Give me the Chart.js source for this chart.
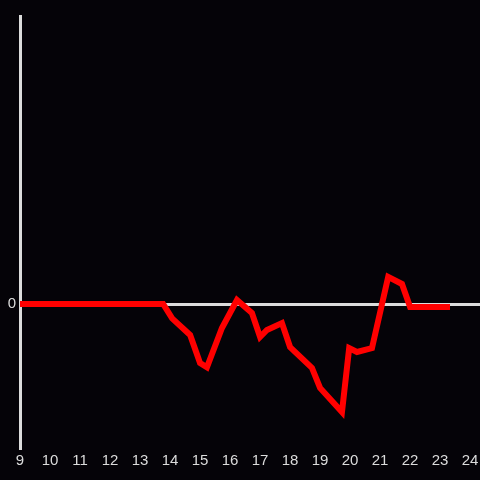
<!DOCTYPE html>
<html>
<head>
<meta charset="utf-8">
<script src="https://cdn.jsdelivr.net/npm/chart.js@4/dist/chart.umd.min.js"></script>
<style>
  html, body { margin: 0; padding: 0; background: #050308; }
  #wrap { width: 480px; height: 480px; }
</style>
</head>
<body>
<div id="wrap"><canvas id="lineChart" width="480" height="480"></canvas></div>
<script>
'use strict';

// hour of day
let hours = [9, 13.77, 14.07, 14.67, 15.0, 15.23, 15.73, 16.23, 16.73, 17.0, 17.23, 17.73,
             18.0, 18.73, 19.0, 19.73, 19.97, 20.23, 20.73, 21.27, 21.73, 22.0, 23.33]
let values = [0, 0, -0.1, -0.215, -0.41, -0.44, -0.167, 0.028, -0.063, -0.229, -0.18, -0.132,
              -0.299, -0.444, -0.583, -0.75, -0.306, -0.333, -0.306, 0.188, 0.139, -0.021, -0.021]
let xTicks = [9, 10, 11, 12, 13, 14, 15, 16, 17, 18, 19, 20, 21, 22, 23, 24]
let yTicks = [0]

let points = []
for (let i = 0; i < hours.length; i++) {
    points.push({x: hours[i], y: values[i]})
}

let axisColor = '#dcdcdc'

let data_1 = {
    datasets: [
        {
            data: points,
            borderColor: '#ff0000',
            borderWidth: 6,
            pointRadius: 0,
            tension: 0,
            fill: false
        }
    ]
}

let options = {
    responsive: false,
    animation: false,
    layout: { padding: { top: 16, left: 0, right: 0, bottom: 0 } },
    plugins: {
        legend: { display: false },
        tooltip: { enabled: false }
    },
    scales: {
        x: {
            type: 'linear',
            min: 9,
            max: 24.33,
            afterBuildTicks: function (scale) {
                scale.ticks = xTicks.map(v => ({value: v}))
            },
            afterFit: function (scale) {
                scale.height = 32
                scale.paddingRight = 0
                scale.paddingLeft = 0
            },
            grid: { display: false, drawTicks: false },
            border: { display: false },
            ticks: {
                color: axisColor,
                font: { size: 15 },
                padding: 4,
                maxRotation: 0,
                autoSkip: false
            }
        },
        y: {
            min: -1,
            max: 2,
            afterBuildTicks: function (scale) {
                scale.ticks = yTicks.map(v => ({value: v}))
            },
            afterFit: function (scale) { scale.width = 20 },
            grid: {
                drawTicks: false,
                color: axisColor,
                lineWidth: 3
            },
            border: { display: true, color: axisColor, width: 3 },
            ticks: {
                color: axisColor,
                font: { size: 15 },
                padding: 4
            }
        }
    }
}

let lineChartCanvas = document.getElementById('lineChart').getContext('2d')
let lineChart = new Chart(lineChartCanvas, {
    type: 'line',
    data: data_1,
    options: options
})
</script>
</body>
</html>
